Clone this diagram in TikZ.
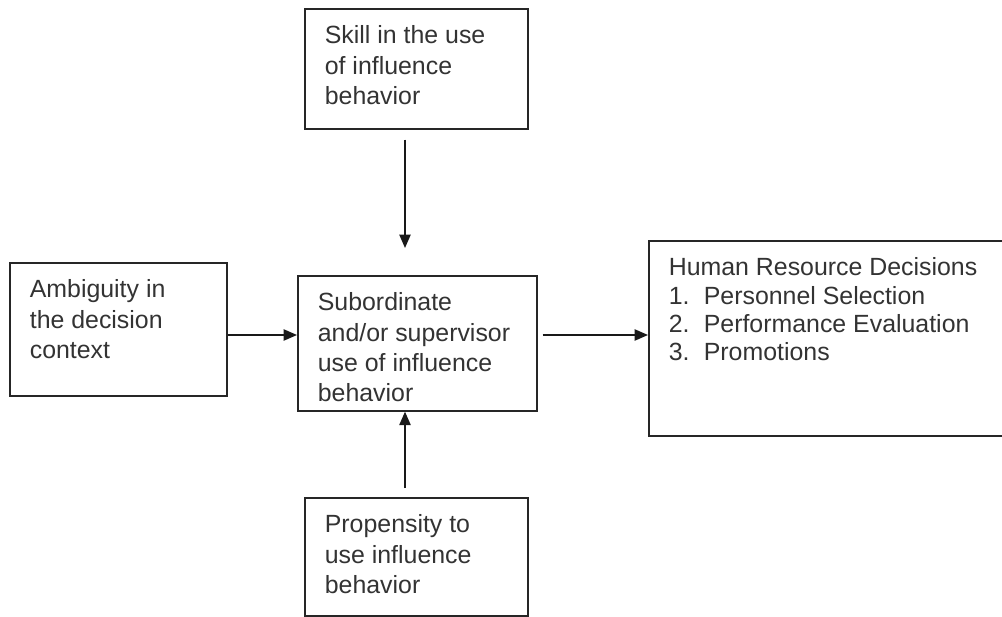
\documentclass[tikz,border=0pt]{standalone}
\usepackage{fontspec}
\setmainfont{Liberation Sans}
\usetikzlibrary{arrows.meta}
\newdimen\px \px=0.025cm
\newcommand{\boxtext}[3]{\parbox[c][#2][t]{#1}{\raggedright\rule{0pt}{35\px}#3}}

\begin{document}
\begin{tikzpicture}[x=0.025cm, y=-0.025cm,
  box/.style={draw=black!85, line width=1.2pt, anchor=north west, inner xsep=20\px, inner ysep=0pt,
    text=black!80, font=\fontsize{17.7}{21.6}\selectfont},
  flow/.style={draw=black!90, line width=1.1pt, -{Triangle[length=9.5pt,width=8pt]}}]
\useasboundingbox (0,0) rectangle (1002,617);
\clip (0,0) rectangle (1002,617);
% boxes
\node[box] (skill) at (304,8) {\boxtext{183\px}{120\px}{Skill in the use\\of influence\\behavior}};
\node[box] (amb) at (9,262) {\boxtext{177\px}{133\px}{Ambiguity in\\the decision\\context}};
\node[box] (sub) at (297,275) {\boxtext{199\px}{135\px}{Subordinate\\and/or supervisor\\use of influence\\behavior}};
\node[box] (prop) at (304,497) {\boxtext{183\px}{118\px}{Propensity to\\use influence\\behavior}};
\node[box, font=\fontsize{17.7}{20.1}\selectfont] (hrd) at (648,240) {\boxtext{322\px}{195\px}{Human Resource Decisions\\
  \makebox[35\px][l]{1.}Personnel Selection\\
  \makebox[35\px][l]{2.}Performance Evaluation\\
  \makebox[35\px][l]{3.}Promotions}};
% connectors
\coordinate (col) at (405,0);
\coordinate (row) at (0,335);
\draw[flow, shorten <=10\px, shorten >=27\px] (col |- skill.south) -- (col |- sub.north);
\draw[flow, shorten <=9\px] (col |- prop.north) -- (col |- sub.south);
\draw[flow] (row -| amb.east) -- (row -| sub.west);
\draw[flow, shorten <=5\px] (row -| sub.east) -- (row -| hrd.west);
\end{tikzpicture}
\end{document}
